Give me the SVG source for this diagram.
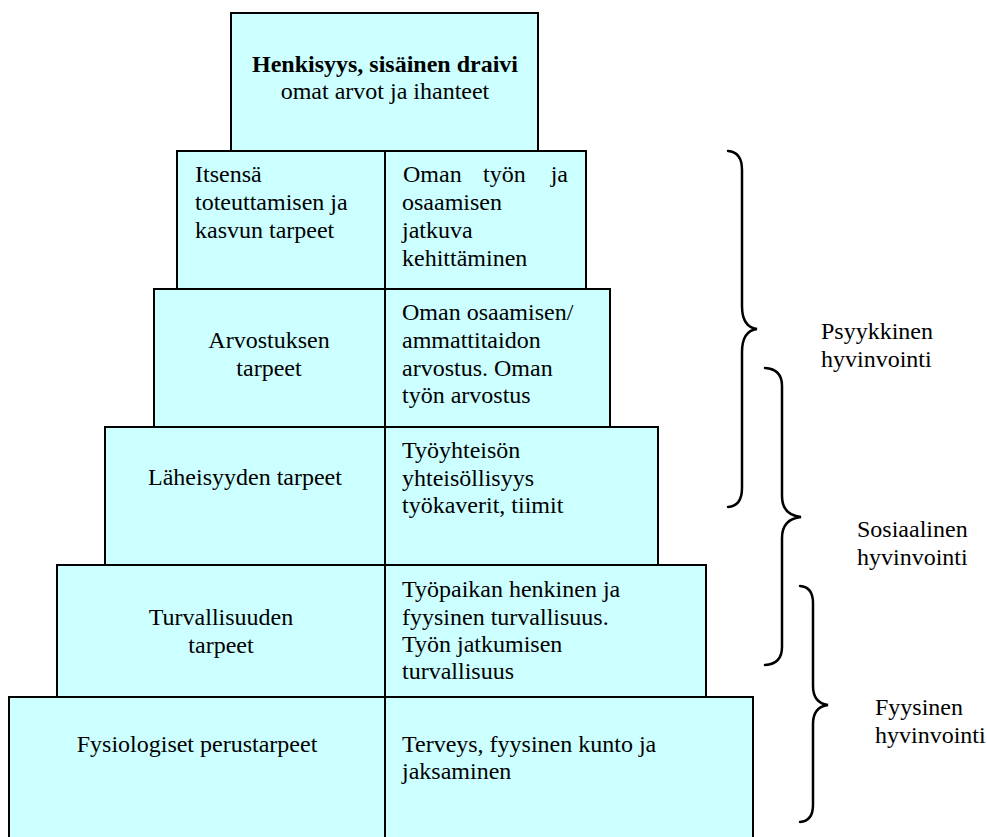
<svg xmlns="http://www.w3.org/2000/svg" width="987" height="837" viewBox="0 0 987 837">
  <style>
    .box { fill: #CCFFFF; stroke: #000; stroke-width: 2; }
    .div { stroke: #000; stroke-width: 2; }
    text { font-family: "Liberation Serif", "Times New Roman", serif; font-size: 24px; fill: #000; }
    .c { text-anchor: middle; }
    .b { font-weight: bold; }
    .brace { fill: none; stroke: #000; stroke-width: 2.5; stroke-linecap: round; }
  </style>

  <!-- Pyramid levels, bottom first so upper borders sit on top -->
  <g id="level-fysiologiset">
    <rect class="box" x="9" y="697" width="744" height="150"/>
    <line class="div" x1="385" y1="697" x2="385" y2="840"/>
    <text class="c" x="197" y="752">Fysiologiset perustarpeet</text>
    <text x="402" y="752">Terveys, fyysinen kunto ja</text>
    <text x="402" y="779">jaksaminen</text>
  </g>

  <g id="level-turvallisuus">
    <rect class="box" x="57" y="565" width="649" height="132"/>
    <line class="div" x1="385" y1="565" x2="385" y2="697"/>
    <text class="c" x="221" y="625">Turvallisuuden</text>
    <text class="c" x="221" y="653">tarpeet</text>
    <text x="402" y="597">Työpaikan henkinen ja</text>
    <text x="402" y="625">fyysinen turvallisuus.</text>
    <text x="402" y="652">Työn jatkumisen</text>
    <text x="402" y="679">turvallisuus</text>
  </g>

  <g id="level-laheisyys">
    <rect class="box" x="105" y="427" width="553" height="138"/>
    <line class="div" x1="385" y1="427" x2="385" y2="565"/>
    <text class="c" x="245" y="485">Läheisyyden tarpeet</text>
    <text x="402" y="458">Työyhteisön</text>
    <text x="402" y="486">yhteisöllisyys</text>
    <text x="402" y="513">työkaverit, tiimit</text>
  </g>

  <g id="level-arvostus">
    <rect class="box" x="154" y="289" width="456" height="138"/>
    <line class="div" x1="385" y1="289" x2="385" y2="427"/>
    <text class="c" x="269" y="348">Arvostuksen</text>
    <text class="c" x="269" y="376">tarpeet</text>
    <text x="402" y="320">Oman osaamisen/</text>
    <text x="402" y="348">ammattitaidon</text>
    <text x="402" y="376">arvostus. Oman</text>
    <text x="402" y="403">työn arvostus</text>
  </g>

  <g id="level-itsensa-toteuttaminen">
    <rect class="box" x="177" y="151" width="409" height="138"/>
    <line class="div" x1="385" y1="151" x2="385" y2="289"/>
    <text x="195" y="182">Itsensä</text>
    <text x="195" y="210">toteuttamisen ja</text>
    <text x="195" y="238">kasvun tarpeet</text>
    <text y="182"><tspan x="403">Oman</tspan><tspan x="483">työn</tspan></text>
    <text x="568" y="182" text-anchor="end">ja</text>
    <text x="402" y="210">osaamisen</text>
    <text x="402" y="238">jatkuva</text>
    <text x="402" y="266">kehittäminen</text>
  </g>

  <g id="level-henkisyys">
    <rect class="box" x="231" y="13" width="307" height="138"/>
    <text class="c b" x="385" y="72">Henkisyys, sisäinen draivi</text>
    <text class="c" x="385" y="99">omat arvot ja ihanteet</text>
  </g>

  <!-- Curly braces grouping the levels -->
  <g id="braces">
    <path class="brace" d="M 728,151 Q 742,152 742,170 L 742,306 Q 742,327 757,329 Q 742,331 742,352 L 742,488 Q 742,506 728,507"/>
    <path class="brace" d="M 765,368 Q 782,369 782,386 L 782,496 Q 782,515 801,517 Q 782,519 782,538 L 782,647 Q 782,664 765,665"/>
    <path class="brace" d="M 800,586 Q 813,587 813,603 L 813,686 Q 813,703 828,705 Q 813,707 813,724 L 813,805 Q 813,821 800,822"/>
  </g>

  <g id="brace-labels">
    <text x="821" y="339">Psyykkinen</text>
    <text x="821" y="367">hyvinvointi</text>
    <text x="857" y="537">Sosiaalinen</text>
    <text x="857" y="565">hyvinvointi</text>
    <text x="875" y="715">Fyysinen</text>
    <text x="875" y="743">hyvinvointi</text>
  </g>
</svg>
